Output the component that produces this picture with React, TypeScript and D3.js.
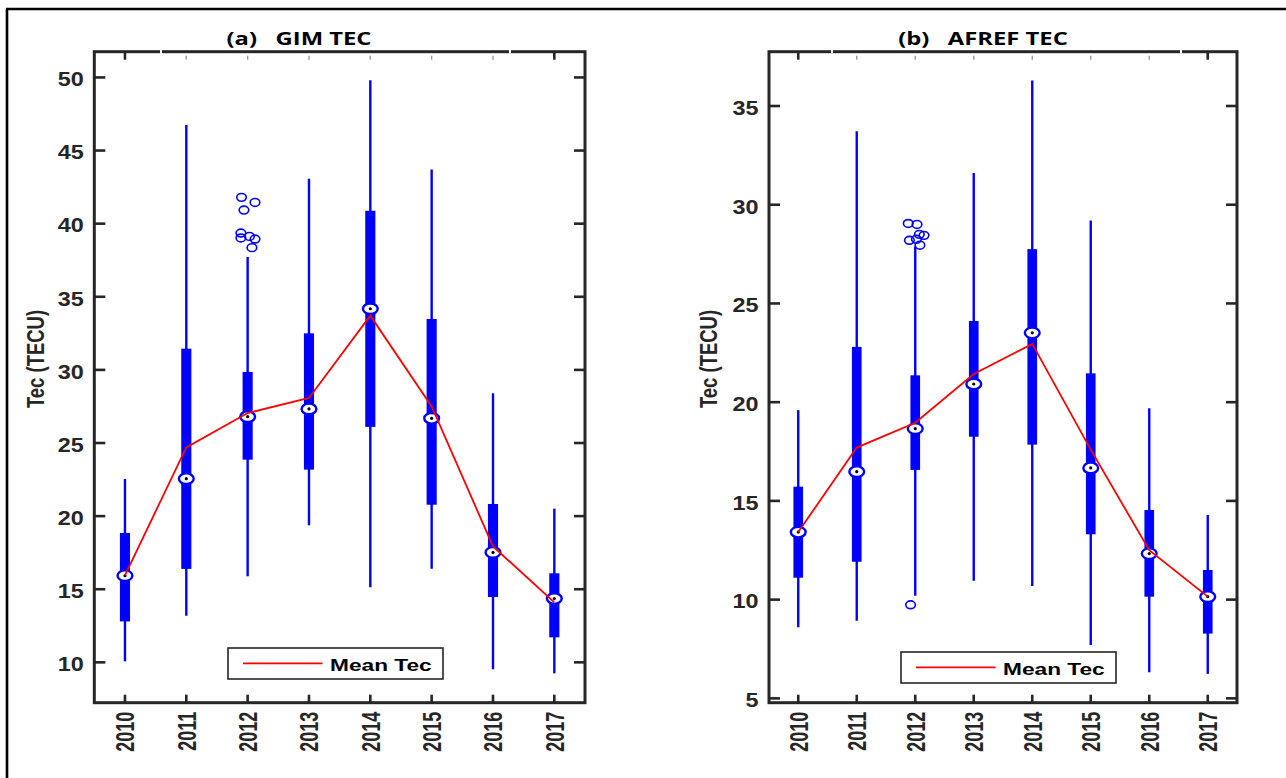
import React from 'react';
import * as d3 from 'd3';

const years = ['2010', '2011', '2012', '2013', '2014', '2015', '2016', '2017'];

// (a) GIM TEC
const gimUpper = [22.54, 46.75, 37.72, 43.07, 49.8, 43.71, 28.4, 20.51];
const gimQ3 = [18.85, 31.45, 29.86, 32.5, 40.88, 33.48, 20.83, 16.09];
const gimMedian = [15.93, 22.56, 26.8, 27.33, 34.18, 26.69, 17.52, 14.36];
const gimQ1 = [12.8, 16.39, 23.86, 23.18, 26.1, 20.78, 14.47, 11.71];
const gimLower = [10.07, 13.19, 15.88, 19.37, 15.13, 16.4, 9.52, 9.25];
const gimMean = [15.95, 24.7, 27.05, 28.08, 33.71, 27.5, 17.93, 14.1];
const gimOutlierYear = ['2012', '2012', '2012', '2012', '2012', '2012', '2012', '2012'];
const gimOutlierValue = [41.8, 41.45, 40.93, 39.36, 39.02, 39.13, 38.95, 38.36];
const gimOutlierJitter = [-0.1, 0.12, -0.06, -0.11, -0.11, 0.03, 0.12, 0.07];
const gimTicks = [10, 15, 20, 25, 30, 35, 40, 45, 50];

// (b) AFREF TEC
const afrefUpper = [19.6, 33.72, 27.88, 31.61, 36.29, 29.2, 19.69, 14.29];
const afrefQ3 = [15.72, 22.8, 21.36, 24.11, 27.75, 21.46, 14.54, 11.5];
const afrefMedian = [13.42, 16.48, 18.66, 20.92, 23.51, 16.67, 12.33, 10.15];
const afrefQ1 = [11.11, 11.92, 16.57, 18.25, 17.85, 13.31, 10.15, 8.28];
const afrefLower = [8.6, 8.93, 10.2, 10.96, 10.69, 7.7, 6.32, 6.24];
const afrefMean = [13.42, 17.7, 18.96, 21.43, 22.95, 17.6, 12.5, 10.15];
const afrefOutlierYear = ['2012', '2012', '2012', '2012', '2012', '2012', '2012', '2012'];
const afrefOutlierValue = [29.05, 29.0, 28.5, 28.45, 28.2, 28.25, 27.95, 9.74];
const afrefOutlierJitter = [-0.12, 0.03, 0.07, 0.15, -0.1, 0.02, 0.08, -0.08];
const afrefTicks = [5, 10, 15, 20, 25, 30, 35];

const AXIS = '#262626';
const BLUE = '#0000ff';
const SANS = '"Liberation Sans", Arial, sans-serif';

type PanelProps = {
  title: string;
  titleX: number;
  x0: number;
  x1: number;
  yDomain: [number, number];
  ticks: number[];
  upper: number[];
  q3: number[];
  median: number[];
  q1: number[];
  lower: number[];
  mean: number[];
  outYear: string[];
  outValue: number[];
  outJitter: number[];
  gaps: number[];
  yLabelX: number;
  legendX: number;
  legendY: number;
};

const y0 = 51.7;
const y1 = 702.7;

const Panel = (p: PanelProps) => {
  const x = d3.scalePoint<string>().domain(years).range([p.x0, p.x1]).padding(0.5);
  const y = d3.scaleLinear().domain(p.yDomain).range([y1, y0]);
  const step = x.step();
  const boxW = step * 0.165;

  const meanLine = d3.line<number>()
    .x((d, i) => x(years[i]) as number)
    .y(d => y(d));

  return (
    <g>
      {/* title */}
      <text
        transform={`translate(${p.titleX},45) scale(1.4,1)`}
        textAnchor="middle"
        style={{ fontFamily: '"Open Sans", sans-serif', fontWeight: 700, fontSize: 17, whiteSpace: 'pre' }}
        fill="#000"
      >
        {p.title}
      </text>

      {/* boxes */}
      {years.map((yr, i) => {
        const cx = x(yr) as number;
        return (
          <g key={yr}>
            <line x1={cx} x2={cx} y1={y(p.upper[i])} y2={y(p.lower[i])} stroke={BLUE} strokeWidth={2.4} />
            <rect x={cx - boxW / 2} width={boxW} y={y(p.q3[i])} height={y(p.q1[i]) - y(p.q3[i])} fill={BLUE} />
          </g>
        );
      })}

      {/* outliers */}
      {p.outValue.map((v, i) => (
        <ellipse
          key={i}
          cx={(x(p.outYear[i]) as number) + p.outJitter[i] * step}
          cy={y(v)}
          rx={4.8}
          ry={3.9}
          fill="none"
          stroke={BLUE}
          strokeWidth={1.6}
        />
      ))}

      {/* medians */}
      {years.map((yr, i) => {
        const cx = x(yr) as number;
        return (
          <g key={'m' + yr}>
            <ellipse cx={cx} cy={y(p.median[i])} rx={7.4} ry={5.3} fill="#fff" stroke={BLUE} strokeWidth={2.4} />
            <circle cx={cx} cy={y(p.median[i])} r={1.6} fill="#000" />
          </g>
        );
      })}

      {/* mean line */}
      <path d={meanLine(p.mean) || ''} fill="none" stroke="#ff0000" strokeWidth={1.8} />

      {/* axes box */}
      <rect x={p.x0} y={y0} width={p.x1 - p.x0} height={y1 - y0} fill="none" stroke={AXIS} strokeWidth={3} />
      {p.gaps.map((g, i) => (
        <rect key={i} x={g - 1} y={y0 - 2} width={2} height={4} fill="#fff" />
      ))}

      {/* y ticks */}
      {p.ticks.map(t => (
        <g key={t}>
          <line x1={p.x0} x2={p.x0 + 11} y1={y(t)} y2={y(t)} stroke={AXIS} strokeWidth={2.6} />
          <line x1={p.x1} x2={p.x1 - 11} y1={y(t)} y2={y(t)} stroke={AXIS} strokeWidth={2.6} />
          <text
            transform={`translate(${p.x0 - 10.5},${y(t)}) scale(1.2,1)`}
            textAnchor="end"
            dy="0.45em"
            style={{ fontFamily: SANS, fontWeight: 700, fontSize: 19.5 }}
            fill={AXIS}
          >
            {t}
          </text>
        </g>
      ))}

      {/* x ticks */}
      {years.map((yr, i) => {
        const cx = x(yr) as number;
        const solid = i === 0 || i === years.length - 1;
        return (
          <g key={'x' + yr}>
            <line x1={cx} x2={cx} y1={y1} y2={y1 - 8} stroke={AXIS} strokeWidth={2.6} />
            {solid ? (
              <line x1={cx} x2={cx} y1={y0} y2={y0 + 8} stroke={AXIS} strokeWidth={2.6} />
            ) : (
              <line x1={cx} x2={cx} y1={y0 + 4} y2={y0 + 8} stroke="#9a9a9a" strokeWidth={1.4} />
            )}
            <text
              transform={`translate(${cx},${y1 + 9}) scale(1.43,1) rotate(-90)`}
              textAnchor="end"
              dy="0.36em"
              style={{ fontFamily: SANS, fontWeight: 700, fontSize: 18 }}
              fill={AXIS}
            >
              {yr}
            </text>
          </g>
        );
      })}

      {/* y label */}
      <text
        transform={`translate(${p.yLabelX},359) scale(1.3,1) rotate(-90)`}
        textAnchor="middle"
        dy="0.36em"
        style={{ fontFamily: SANS, fontWeight: 700, fontSize: 18.5 }}
        fill={AXIS}
      >
        Tec (TECU)
      </text>

      {/* legend */}
      <g transform={`translate(${p.legendX},${p.legendY})`}>
        <rect x={0} y={0} width={215} height={31} fill="#fff" stroke={AXIS} strokeWidth={1.6} />
        <line x1={15} x2={94.5} y1={15.3} y2={15.3} stroke="#ff0000" strokeWidth={1.8} />
        <text
          transform="translate(102,22.6) scale(1.42,1)"
          style={{ fontFamily: SANS, fontWeight: 700, fontSize: 16 }}
          fill="#000"
        >
          Mean Tec
        </text>
      </g>
    </g>
  );
};

export default function App() {
  return (
    <svg
      width={1286}
      height={778}
      style={{ position: 'fixed', left: 0, top: 0, background: '#fff' }}
    >
      <rect x={0} y={0} width={1286} height={778} fill="#fff" />
      <line x1={7} x2={7} y1={9} y2={778} stroke="#000" strokeWidth={2.6} />
      <line x1={6} x2={1286} y1={9} y2={9} stroke="#000" strokeWidth={2.6} />
      <Panel
        title="(a)   GIM TEC"
        titleX={299}
        x0={94.3}
        x1={585}
        yDomain={[7.24, 51.76]}
        ticks={gimTicks}
        upper={gimUpper}
        q3={gimQ3}
        median={gimMedian}
        q1={gimQ1}
        lower={gimLower}
        mean={gimMean}
        outYear={gimOutlierYear}
        outValue={gimOutlierValue}
        outJitter={gimOutlierJitter}
        gaps={[161, 510]}
        yLabelX={35}
        legendX={228}
        legendY={648}
      />
      <Panel
        title="(b)   AFREF TEC"
        titleX={983}
        x0={769}
        x1={1237}
        yDomain={[4.78, 37.75]}
        ticks={afrefTicks}
        upper={afrefUpper}
        q3={afrefQ3}
        median={afrefMedian}
        q1={afrefQ1}
        lower={afrefLower}
        mean={afrefMean}
        outYear={afrefOutlierYear}
        outValue={afrefOutlierValue}
        outJitter={afrefOutlierJitter}
        gaps={[832, 1181]}
        yLabelX={708}
        legendX={901}
        legendY={652}
      />
    </svg>
  );
}
